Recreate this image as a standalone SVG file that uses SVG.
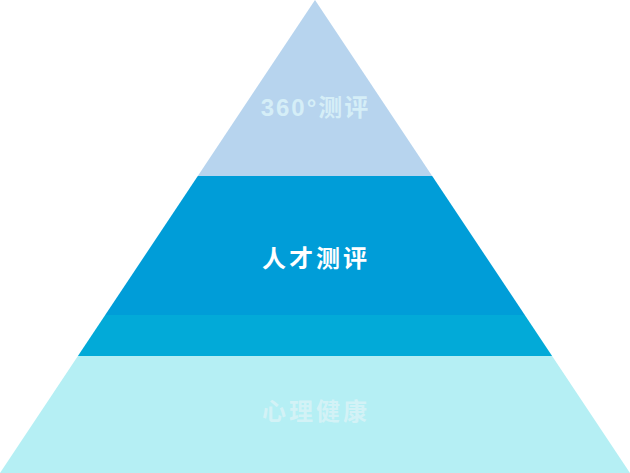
<svg xmlns="http://www.w3.org/2000/svg" width="630" height="473" viewBox="0 0 630 473">
<style>
.lbl{font-family:"Noto Sans CJK SC","Liberation Sans",sans-serif;font-weight:bold;font-size:24px;text-anchor:middle;letter-spacing:3px}
.num{font-family:"Liberation Sans","Noto Sans CJK SC",sans-serif;letter-spacing:2px}
</style>
<rect width="630" height="473" fill="#ffffff"/>
<g id="tier-top">
<polygon points="315,0 197.8,176 432.2,176" fill="#B7D4EE"/>
<text class="lbl num" x="315.5" y="116" fill="#D5EEF7">360°测评</text>
</g>
<g id="tier-talent">
<polygon points="197.8,176 432.2,176 524.8,315 105.2,315" fill="#009DD8"/>
<text class="lbl" x="316" y="267" fill="#FFFFFF">人才测评</text>
</g>
<g id="tier-mid">
<polygon points="105.2,315 524.8,315 552.1,356 77.9,356" fill="#02AAD8"/>
</g>
<g id="tier-base">
<polygon points="77.9,356 552.1,356 630,473 0,473" fill="#B5EFF4"/>
<text class="lbl" x="316" y="420" fill="#D3F2F6">心理健康</text>
</g>
<g id="connectors"></g>
</svg>
